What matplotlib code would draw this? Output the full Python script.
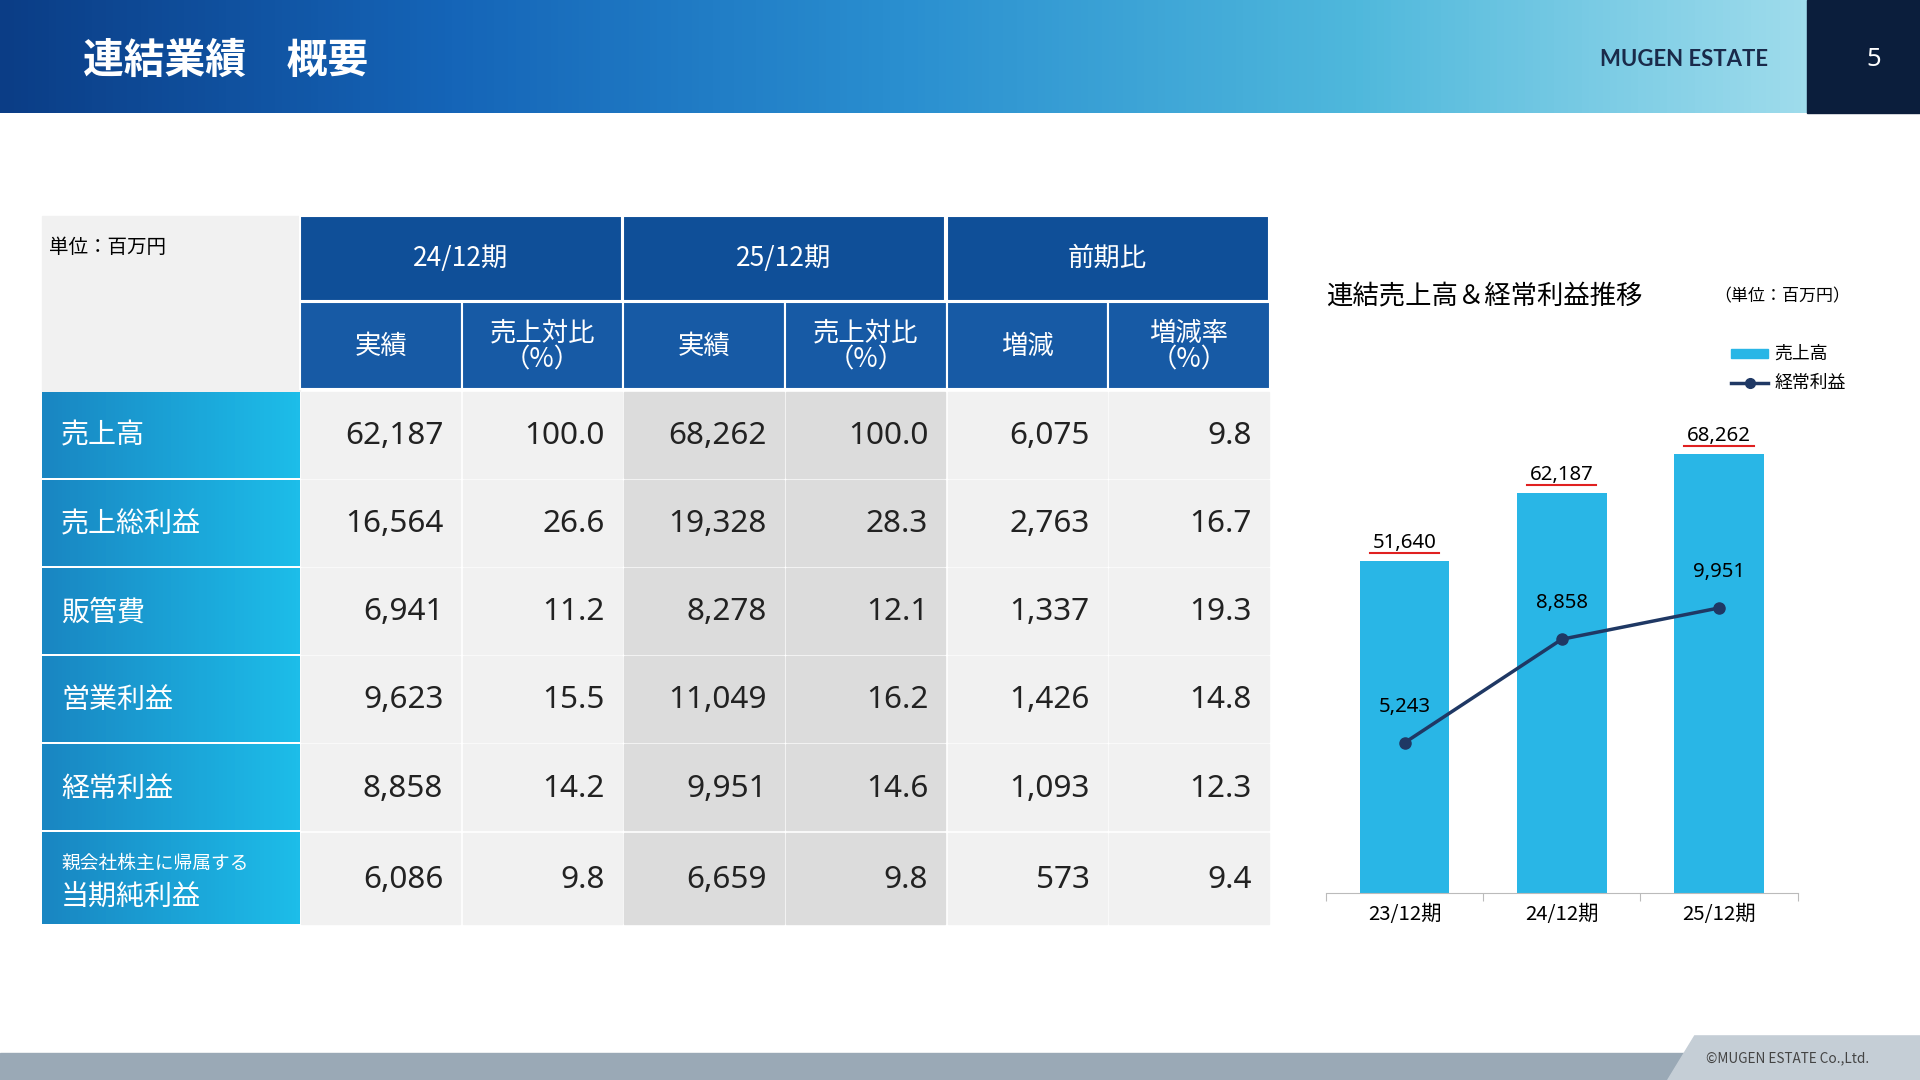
import numpy as np
import matplotlib
matplotlib.use("Agg")
import matplotlib.pyplot as plt
from matplotlib.patches import Rectangle, Polygon
from matplotlib.colors import LinearSegmentedColormap

plt.rcParams['font.family'] = ['Noto Sans CJK JP', 'DejaVu Sans']
NUM = ['Noto Sans', 'Noto Sans CJK JP']
K = 1920 / 1568  # font scale: layout is in 1568-wide pixel space

# table data
row_labels = ['売上高', '売上総利益', '販管費', '営業利益', '経常利益', '当期純利益']
act_24 = ['62,187', '16,564', '6,941', '9,623', '8,858', '6,086']
pct_24 = ['100.0', '26.6', '11.2', '15.5', '14.2', '9.8']
act_25 = ['68,262', '19,328', '8,278', '11,049', '9,951', '6,659']
pct_25 = ['100.0', '28.3', '12.1', '16.2', '14.6', '9.8']
diff = ['6,075', '2,763', '1,337', '1,426', '1,093', '573']
rate = ['9.8', '16.7', '19.3', '14.8', '12.3', '9.4']

# chart data
periods = ['23/12期', '24/12期', '25/12期']
sales = [51640, 62187, 68262]
ordinary = [5243, 8858, 9951]

W, H = 1568, 882
fig = plt.figure(figsize=(19.2, 10.8), dpi=100)
bg = fig.add_axes([0, 0, 1, 1])
bg.set_xlim(0, W)
bg.set_ylim(H, 0)
bg.axis('off')

# header band
grad = np.linspace(0, 1, 256).reshape(1, -1)
cmap = LinearSegmentedColormap.from_list('hd', ['#0b3d86', '#1565b8', '#2a8fd0', '#4fb8dc', '#9fdcec'])
bg.imshow(grad, extent=[0, 1476, 92, 0], cmap=cmap, aspect='auto', zorder=0)
bg.add_patch(Rectangle((1476, 0), 92, 92, color='#0b1e3c', zorder=1))
bg.text(68, 50, '連結業績　概要', color='white', fontsize=24 * K, fontweight='bold', va='center')
bg.text(1375, 49, 'MUGEN ESTATE', color='#1a2a4a', fontsize=13 * K, fontweight='bold', va='center', ha='center',
        family=['Lato', 'DejaVu Sans'])
bg.text(1530, 49, '5', color='white', fontsize=15 * K, va='center', ha='center', family=NUM)

# footer
bg.add_patch(Rectangle((0, 860), W, 22, color='#9aa9b6', zorder=1))
bg.add_patch(Polygon([(1362, 882), (1384, 846), (W, 846), (W, 882)], color='#c5ced6', zorder=2))
bg.text(1460, 864, '©MUGEN ESTATE Co.,Ltd.', fontsize=8 * K, color='#444', ha='center', va='center', zorder=3)

# table
xs = [34, 245, 377, 509, 641, 773, 905, 1037]
ys = [320, 392, 464, 536, 608, 680, 757]
hdr_blue = '#0f4f98'
bg.add_patch(Rectangle((34, 176), 211, 143, color='#f1f1f1'))
bg.text(40, 202, '単位：百万円', fontsize=11.5 * K, va='center')
for i, t in enumerate(['24/12期', '25/12期', '前期比']):
    x0 = xs[1 + 2 * i]
    bg.add_patch(Rectangle((x0, 176), 263, 70, color=hdr_blue, ec='white', lw=1.5))
    bg.text(x0 + 131, 211, t, color='white', fontsize=15.5 * K, ha='center', va='center')
subs = ['実績', '売上対比\n（%）', '実績', '売上対比\n（%）', '増減', '増減率\n（%）']
for j, t in enumerate(subs):
    x0 = xs[1 + j]
    bg.add_patch(Rectangle((x0, 247), 132, 71, color='#175aa5', ec='white', lw=1.5))
    bg.text(x0 + 66, 283, t, color='white', fontsize=15.5 * K, ha='center', va='center', linespacing=1.0)

cols = [act_24, pct_24, act_25, pct_25, diff, rate]
for r in range(6):
    y0, y1 = ys[r], ys[r + 1]
    bg.imshow(np.linspace(0, 1, 64).reshape(1, -1), extent=[34, 244, y1 - 2, y0],
              cmap=LinearSegmentedColormap.from_list('c', ['#1986c2', '#1dbde9']), aspect='auto', zorder=2)
    if r == 5:
        bg.text(50, 705, '親会社株主に帰属する', color='white', fontsize=11 * K, va='center', zorder=3)
        bg.text(50, 733, row_labels[r], color='white', fontsize=16.5 * K, va='center', zorder=3)
    else:
        bg.text(50, (y0 + y1) / 2, row_labels[r], color='white', fontsize=16.5 * K, va='center', zorder=3)
    for j in range(6):
        x0 = xs[1 + j]
        fc = '#dcdcdc' if j in (2, 3) else '#f1f1f1'
        bg.add_patch(Rectangle((x0 + 1, y0), 130, y1 - y0 - 2, color=fc, zorder=1))
        bg.text(x0 + 117, (y0 + y1) / 2, cols[j][r], fontsize=18.5 * K, ha='right', va='center',
                color='#222', zorder=3, family=NUM)

# chart
bg.text(1083, 242, '連結売上高＆経常利益推移', fontsize=15.5 * K, va='center')
bg.text(1400, 242, '（単位：百万円）', fontsize=10 * K, va='center')
bg.add_patch(Rectangle((1414, 285), 30, 7, color='#29b6e6'))
bg.text(1449, 289, '売上高', fontsize=10.5 * K, va='center')
bg.plot([1414, 1444], [313, 313], color='#1f3864', lw=2.5)
bg.plot([1429], [313], 'o', color='#1f3864', ms=7)
bg.text(1449, 313, '経常利益', fontsize=10.5 * K, va='center')

ax = fig.add_axes([1083 / W, 1 - 729 / H, (1468 - 1083) / W, (729 - 330) / H])
ax.patch.set_visible(False)
x = np.arange(3)
ax.bar(x, sales, width=0.57, color='#29b6e6')
ax.set_xlim(-0.5, 2.5)
ax.set_ylim(0, 68262 * 399 / 358)
for xi, v in zip(x, sales):
    ax.text(xi, v + 1300, f'{v:,}', ha='center', va='bottom', fontsize=12 * K, family=NUM)
    ax.plot([xi - 0.22, xi + 0.22], [v + 1300, v + 1300], color='#e02020', lw=1.5)
ax2 = ax.twinx()
ax2.patch.set_visible(False)
ax2.plot(x, ordinary, color='#1f3864', lw=2.5, marker='o', ms=8)
ax2.set_ylim(0, 42.8 * 399)
for xi, v in zip(x, ordinary):
    ax2.text(xi, v + 900, f'{v:,}', ha='center', va='bottom', fontsize=12 * K, family=NUM)
for a in (ax, ax2):
    for s in a.spines.values():
        s.set_visible(False)
    a.set_yticks([])
ax.spines['bottom'].set_visible(True)
ax.spines['bottom'].set_color('#bbbbbb')
ax.set_xticks([-0.5, 0.5, 1.5, 2.5], minor=False)
ax.set_xticklabels([])
ax.tick_params(axis='x', length=6, color='#bbbbbb')
ax.set_xticks(x, minor=True)
ax.set_xticklabels(periods, minor=True, fontsize=12 * K)
ax.tick_params(axis='x', which='minor', length=0, pad=8)

fig.savefig('out.png', dpi=100)
